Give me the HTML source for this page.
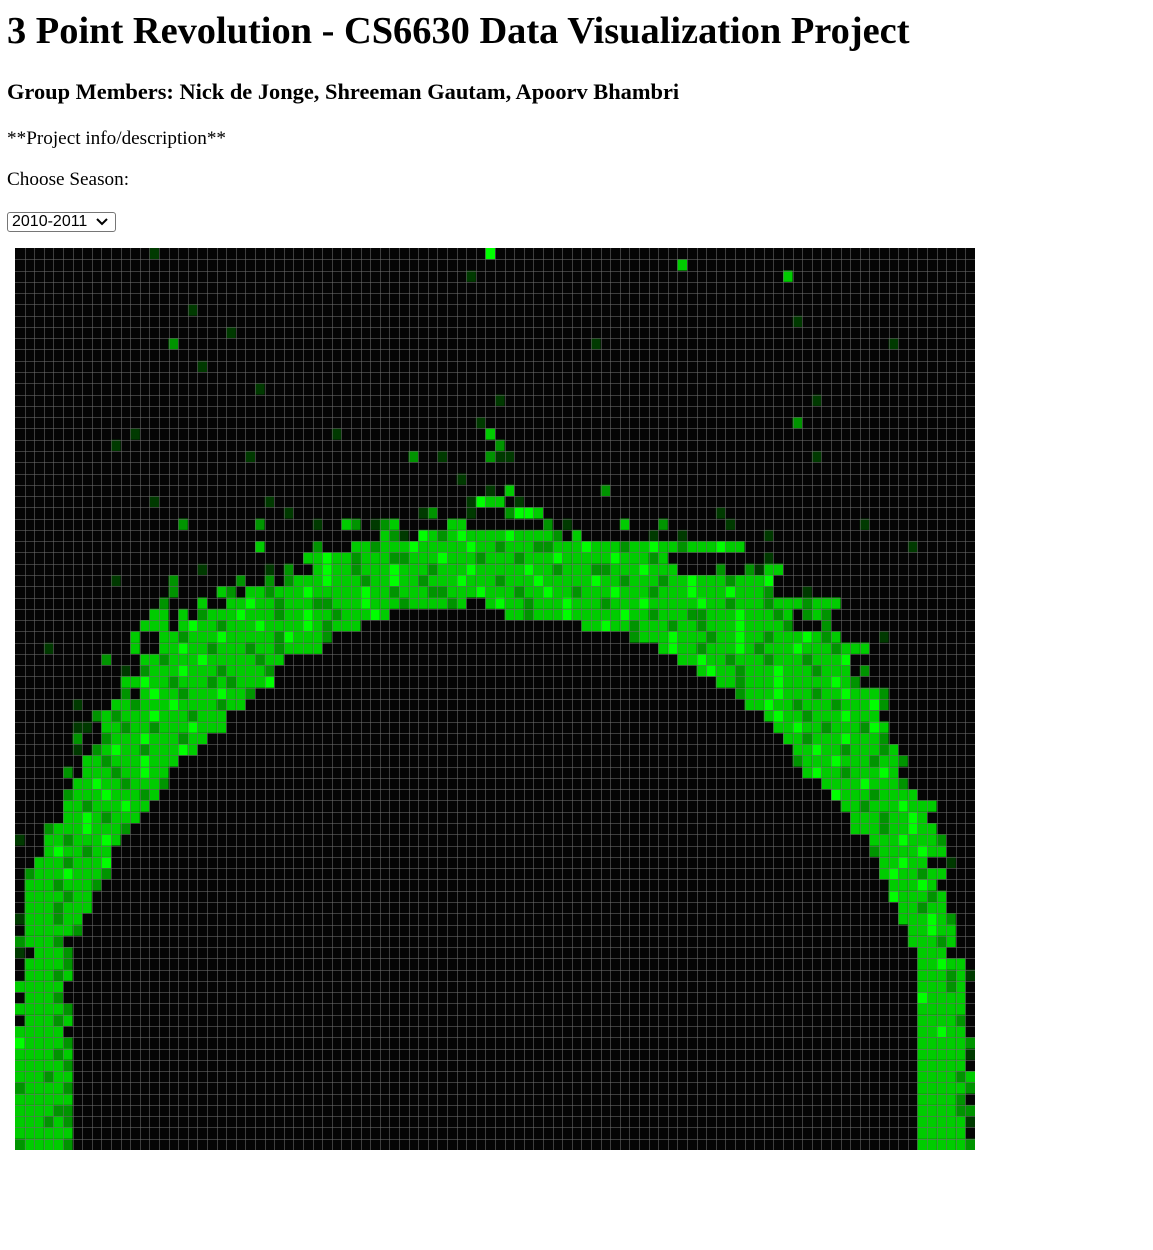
<!DOCTYPE html>
<html><head><meta charset="utf-8">
<style>
html,body{margin:0;padding:0;background:#fff;width:1153px;height:1250px;overflow:hidden;position:relative;font-family:"Liberation Serif",serif;color:#000}
.t{position:absolute;margin:0;white-space:nowrap}
h1.t{left:7px;top:9px;font-size:38.4px;font-weight:bold;line-height:44px}
h3.t{left:7px;top:79px;font-size:22.4px;font-weight:bold;line-height:26px}
p.t{font-size:19.2px;line-height:22px;left:7px}
#season{position:absolute;left:7px;top:212px;width:109px;height:20px;box-sizing:border-box;border:1px solid #767676;border-radius:3px;font-family:"Liberation Sans",sans-serif;font-size:16px;line-height:18px;padding-left:4px;background:#fff}
#season svg{position:absolute;right:7px;top:5px}
#chart{position:absolute;left:15px;top:248px}
</style></head>
<body>
<h1 class="t">3 Point Revolution - CS6630 Data Visualization Project</h1>
<h3 class="t">Group Members: Nick de Jonge, Shreeman Gautam, Apoorv Bhambri</h3>
<p class="t" style="top:128px">**Project info/description**</p>
<p class="t" style="top:169px">Choose Season:</p>
<div id="season">2010-2011<svg width="12" height="8" viewBox="0 0 12 8"><path d="M1 1 L6 6 L11 1" stroke="#000" stroke-width="2" fill="none"/></svg></div>
<svg id="chart" width="960" height="902"></svg>
<script>
const numCols = 100;
const numRows = 80;
const levelColors = ["#050505","#003a00","#009400","#00cc00","#00ff00"];
const rows = [
/*0*/[[14,"1"],[49,"4"]],
/*1*/[[69,"3"]],
/*2*/[[47,"1"],[80,"3"]],
/*3*/[],
/*4*/[],
/*5*/[[18,"1"]],
/*6*/[[81,"1"]],
/*7*/[[22,"1"]],
/*8*/[[16,"2"],[60,"1"],[91,"1"]],
/*9*/[],
/*10*/[[19,"1"]],
/*11*/[],
/*12*/[[25,"1"]],
/*13*/[[50,"1"],[83,"1"]],
/*14*/[],
/*15*/[[48,"1"],[81,"2"]],
/*16*/[[12,"1"],[33,"1"],[49,"3"]],
/*17*/[[10,"1"],[50,"2"]],
/*18*/[[24,"1"],[41,"2"],[44,"1"],[49,"211"],[83,"1"]],
/*19*/[],
/*20*/[[46,"1"]],
/*21*/[[49,"1"],[51,"3"],[61,"2"]],
/*22*/[[14,"1"],[26,"1"],[47,"1"],[48,"433"],[52,"1"]],
/*23*/[[28,"1"],[42,"1"],[43,"2"],[47,"1"],[51,"2443"],[73,"1"]],
/*24*/[[17,"2"],[25,"2"],[31,"1"],[34,"32"],[37,"123"],[45,"33"],[55,"2"],[57,"1"],[63,"3"],[67,"2"],[74,"1"],[88,"1"]],
/*25*/[[38,"321"],[42,"432"],[45,"343333433332"],[58,"3"],[66,"1"],[69,"1"],[78,"1"]],
/*26*/[[25,"3"],[31,"2"],[35,"33233343333343323332233343332334332333433"],[93,"1"]],
/*27*/[[30,"33433233322333433323332333433333433323"],[78,"1"]],
/*28*/[[19,"1"],[26,"1"],[28,"2"],[31,"34332333433323334333334332333223334333"],[73,"2"],[76,"2133"]],
/*29*/[[10,"1"],[16,"2"],[23,"2"],[26,"2"],[28,"233343332334332333433323334333334332333233433323334"]],
/*30*/[[16,"2"],[21,"32"],[24,"3323334333334332333223334333233433233343332333433343332"],[82,"1"]],
/*31*/[[15,"2"],[19,"3"],[22,"3343323332233343332333323"],[49,"3433233343332333433333433233323332333"]],
/*32*/[[14,"33"],[17,"3"],[19,"23334333233433233343"],[51,"332333433333433233322333433323"],[82,"232"]],
/*33*/[[13,"333"],[17,"3433233343333432333"],[59,"3343323332332333433332"],[84,"2"]],
/*34*/[[12,"3"],[15,"332333433333243332"],[64,"2333433323343323334323"],[90,"1"]],
/*35*/[[3,"1"],[12,"3"],[15,"33433233323323333"],[67,"3433233343233343332333"]],
/*36*/[[9,"2"],[13,"332333433333233"],[69,"334332333233323334"]],
/*37*/[[11,"1"],[13,"23334333233332"],[71,"3433233343332333"],[88,"2"]],
/*38*/[[11,"3343323332323334"],[73,"332333433333432"]],
/*39*/[[11,"2"],[13,"343323334332"],[75,"2333433323343332"]],
/*40*/[[6,"1"],[10,"33233343333233"],[76,"334332333233342"]],
/*41*/[[8,"23233343332333"],[78,"343323334333"]],
/*42*/[[6,"11"],[9,"3323323334333"],[79,"334332333243"]],
/*43*/[[6,"2"],[9,"23334333233"],[80,"33233343332"]],
/*44*/[[6,"1"],[8,"23433233343"],[81,"33433233323"]],
/*45*/[[7,"3323334333"],[81,"233343332332"]],
/*46*/[[5,"2"],[7,"333233433"],[82,"3433233343"]],
/*47*/[[6,"3343323332"],[84,"333343332"]],
/*48*/[[5,"2333433323"],[85,"433323333"]],
/*49*/[[5,"332333433"],[86,"3323334333"]],
/*50*/[[5,"33432333"],[87,"33323343"]],
/*51*/[[3,"233343332"],[87,"333233433"]],
/*52*/[[0,"1"],[3,"33233343"],[89,"33343332"]],
/*53*/[[3,"3433233"],[89,"23333433"]],
/*54*/[[2,"33323334"],[90,"33433"],[97,"1"]],
/*55*/[[1,"233343332"],[90,"3433233"]],
/*56*/[[1,"33323332"],[91,"33343"]],
/*57*/[[1,"3333233"],[91,"433323"]],
/*58*/[[1,"3332333"],[92,"33233"]],
/*59*/[[0,"1333233"],[92,"333432"]],
/*60*/[[1,"333332"],[93,"33433"]],
/*61*/[[0,"23332"],[93,"33323"]],
/*62*/[[0,"1"],[2,"3332"],[94,"333"]],
/*63*/[[1,"33332"],[94,"33433"]],
/*64*/[[1,"33323"],[94,"333231"]],
/*65*/[[0,"33333"],[94,"33323"]],
/*66*/[[1,"3332"],[94,"43333"]],
/*67*/[[0,"333332"],[94,"33333"]],
/*68*/[[1,"33323"],[94,"33332"]],
/*69*/[[0,"33333"],[94,"33433"]],
/*70*/[[0,"433332"],[94,"333332"]],
/*71*/[[0,"333323"],[94,"333331"]],
/*72*/[[0,"333332"],[94,"33333"]],
/*73*/[[0,"333233"],[94,"333323"]],
/*74*/[[0,"233332"],[94,"333332"]],
/*75*/[[0,"333333"],[94,"33332"]],
/*76*/[[0,"333322"],[94,"333322"]],
/*77*/[[0,"333232"],[94,"333331"]],
/*78*/[[0,"333333"],[94,"33333"]],
/*79*/[[0,"233332"],[94,"333332"]]
];
const W = 960, H = 902;
const xScale = c => c * W / numCols;
const yScale = r => r * H / numRows;
const NS = "http://www.w3.org/2000/svg";
const svg = document.getElementById("chart");
const bg = document.createElementNS(NS, "rect");
bg.setAttribute("x", 0); bg.setAttribute("y", 0);
bg.setAttribute("width", W); bg.setAttribute("height", H);
bg.setAttribute("fill", levelColors[0]);


svg.appendChild(bg);
rows.forEach((segs, r) => {
  segs.forEach(seg => {
    const start = seg[0], lv = seg[1];
    for (let i = 0; i < lv.length; i++) {
      const v = +lv[i];
      if (!v) continue;
      const c = start + i;
      const rc = document.createElementNS(NS, "rect");
      rc.setAttribute("x", xScale(c));
      rc.setAttribute("y", yScale(r));
      rc.setAttribute("width", xScale(c + 1) - xScale(c));
      rc.setAttribute("height", yScale(r + 1) - yScale(r));
      rc.setAttribute("fill", levelColors[v]);
      
      
      svg.appendChild(rc);
    }
  });
});
const g = document.createElementNS(NS, "g");
g.setAttribute("stroke", "rgba(110,110,110,0.55)");
g.setAttribute("stroke-width", "1");


for (let c = 1; c < numCols; c++) {
  const l = document.createElementNS(NS, "line");
  const x = Math.round(xScale(c)) + 0.5;
  l.setAttribute("x1", x); l.setAttribute("x2", x);
  l.setAttribute("y1", 0); l.setAttribute("y2", H);
  g.appendChild(l);
}
for (let r = 1; r < numRows; r++) {
  const l = document.createElementNS(NS, "line");
  const y = Math.round(yScale(r)) + 0.5;
  l.setAttribute("y1", y); l.setAttribute("y2", y);
  l.setAttribute("x1", 0); l.setAttribute("x2", W);
  g.appendChild(l);
}
svg.appendChild(g);
</script>
</body></html>
